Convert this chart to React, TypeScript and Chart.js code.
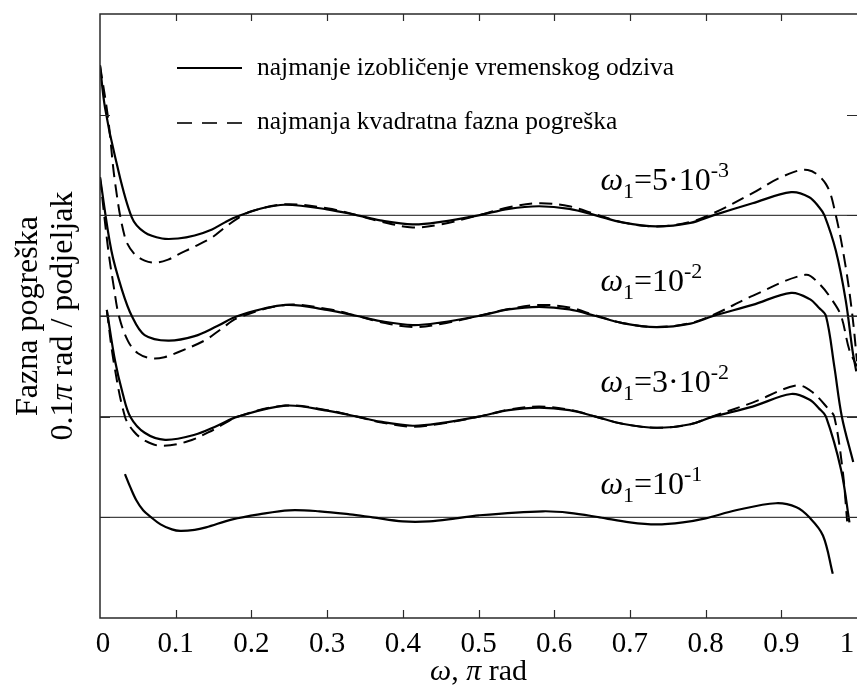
import React, { useEffect, useRef } from 'react';
import { Chart, registerables } from 'chart.js';

Chart.register(...registerables);

// ---------- axis data ----------
const X_TICKS = [0, 0.1, 0.2, 0.3, 0.4, 0.5, 0.6, 0.7, 0.8, 0.9, 1];
const X_TICK_LABELS = ['0', '0.1', '0.2', '0.3', '0.4', '0.5', '0.6', '0.7', '0.8', '0.9', '1'];
const Y_TICKS = [1, 2, 3, 4, 5];
const BASELINES = [4, 3, 2, 1];

const LEGEND_SOLID = 'najmanje izobličenje vremenskog odziva';
const LEGEND_DASHED = 'najmanja kvadratna fazna pogreška';
const OMEGA_MAIN = ['=5·10', '=10', '=3·10', '=10'];
const OMEGA_EXP = ['-3', '-2', '-2', '-1'];
const OMEGA_BASE = [4, 3, 2, 1];

// ---------- curve data (offsets relative to each baseline) ----------
// omega1 = 5e-3  (baseline 4)
const A_SOLID_X = [0, 0.0066, 0.02, 0.042, 0.059, 0.082, 0.103, 0.125, 0.148, 0.165, 0.182, 0.214, 0.245, 0.30, 0.34, 0.37, 0.413, 0.45, 0.50, 0.54, 0.58, 0.62, 0.655, 0.69, 0.735, 0.78, 0.81, 0.862, 0.913, 0.937, 0.95, 0.957, 0.972, 0.985, 0.994, 0.999];
const A_SOLID_Y = [1.49, 1.07, 0.58, -0.02, -0.17, -0.23, -0.23, -0.2, -0.14, -0.07, -0.01, 0.07, 0.105, 0.06, 0, -0.05, -0.09, -0.065, 0, 0.065, 0.09, 0.065, 0, -0.07, -0.11, -0.075, 0, 0.12, 0.23, 0.18, 0.08, 0, -0.35, -0.84, -1.34, -1.55];
const A_DASH_X = [0, 0.0106, 0.02, 0.033, 0.045, 0.059, 0.073, 0.09, 0.103, 0.125, 0.148, 0.165, 0.182, 0.20, 0.245, 0.30, 0.34, 0.37, 0.413, 0.45, 0.50, 0.54, 0.58, 0.62, 0.655, 0.69, 0.735, 0.78, 0.81, 0.862, 0.90, 0.935, 0.959, 0.972, 0.985, 0.994, 1.0];
const A_DASH_Y = [1.49, 0.97, 0.32, -0.22, -0.38, -0.45, -0.47, -0.44, -0.39, -0.31, -0.22, -0.12, -0.03, 0.04, 0.11, 0.07, 0, -0.06, -0.12, -0.09, 0, 0.08, 0.12, 0.09, 0.01, -0.07, -0.11, -0.065, 0.02, 0.22, 0.38, 0.45, 0.31, 0, -0.51, -1.0, -1.45];

// omega1 = 1e-2  (baseline 3)
const B_SOLID_X = [0, 0.015, 0.029, 0.042, 0.059, 0.09, 0.125, 0.155, 0.182, 0.245, 0.30, 0.34, 0.37, 0.413, 0.45, 0.50, 0.54, 0.58, 0.62, 0.655, 0.69, 0.735, 0.78, 0.81, 0.862, 0.913, 0.937, 0.95, 0.959, 0.97, 0.98, 0.995];
const B_SOLID_Y = [1.38, 0.65, 0.26, 0, -0.19, -0.245, -0.2, -0.1, 0, 0.11, 0.06, 0, -0.05, -0.09, -0.065, 0, 0.065, 0.09, 0.065, 0, -0.07, -0.11, -0.075, 0, 0.11, 0.23, 0.17, 0.08, 0, -0.5, -1.0, -1.45];
const B_DASH_X = [0, 0.011, 0.018, 0.025, 0.037, 0.05, 0.068, 0.085, 0.103, 0.139, 0.16, 0.182, 0.245, 0.30, 0.34, 0.37, 0.413, 0.45, 0.50, 0.54, 0.58, 0.62, 0.655, 0.69, 0.735, 0.78, 0.81, 0.862, 0.932, 0.95, 0.967, 0.979, 0.99, 1.0];
const B_DASH_Y = [1.38, 0.65, 0.3, 0, -0.25, -0.37, -0.42, -0.41, -0.36, -0.24, -0.13, -0.02, 0.11, 0.07, 0, -0.06, -0.11, -0.08, 0, 0.07, 0.11, 0.085, 0.005, -0.07, -0.11, -0.07, 0.01, 0.2, 0.41, 0.32, 0.16, 0, -0.34, -0.5];

// omega1 = 3e-2  (baseline 2)
const C_SOLID_X = [0.009, 0.02, 0.03, 0.04, 0.059, 0.086, 0.125, 0.155, 0.182, 0.245, 0.30, 0.34, 0.37, 0.413, 0.45, 0.50, 0.54, 0.58, 0.62, 0.655, 0.69, 0.735, 0.78, 0.81, 0.862, 0.913, 0.937, 0.95, 0.959, 0.979, 0.99];
const C_SOLID_Y = [1.06, 0.55, 0.23, 0, -0.16, -0.23, -0.18, -0.09, 0, 0.11, 0.06, 0, -0.05, -0.09, -0.065, 0, 0.065, 0.09, 0.065, 0, -0.07, -0.11, -0.075, 0, 0.1, 0.225, 0.17, 0.08, 0, -0.53, -1.05];
const C_DASH_X = [0.009, 0.018, 0.033, 0.045, 0.06, 0.081, 0.116, 0.15, 0.182, 0.245, 0.30, 0.34, 0.37, 0.413, 0.45, 0.50, 0.54, 0.58, 0.62, 0.655, 0.69, 0.735, 0.78, 0.81, 0.862, 0.92, 0.94, 0.963, 0.97, 0.981, 0.987];
const C_DASH_Y = [1.06, 0.55, 0, -0.15, -0.24, -0.29, -0.245, -0.13, 0, 0.11, 0.065, 0, -0.055, -0.1, -0.07, 0, 0.07, 0.1, 0.07, 0, -0.07, -0.11, -0.075, 0.005, 0.14, 0.31, 0.25, 0.07, 0, -0.53, -1.04];

// omega1 = 1e-1  (baseline 1)
const D_SOLID_X = [0.033, 0.04, 0.048, 0.057, 0.066, 0.08, 0.095, 0.106, 0.125, 0.14, 0.175, 0.21, 0.25, 0.29, 0.33, 0.36, 0.40, 0.435, 0.47, 0.50, 0.585, 0.62, 0.66, 0.70, 0.735, 0.77, 0.80, 0.84, 0.893, 0.92, 0.937, 0.955, 0.968];
const D_SOLID_Y = [0.43, 0.3, 0.17, 0.07, 0.01, -0.07, -0.12, -0.135, -0.125, -0.1, -0.02, 0.03, 0.07, 0.06, 0.03, 0, -0.04, -0.04, -0.01, 0.02, 0.06, 0.045, 0, -0.05, -0.07, -0.05, -0.01, 0.07, 0.14, 0.1, 0, -0.18, -0.56];

const SERIF = '"Liberation Serif", "Times New Roman", serif';

const toPoints = (xs: number[], offs: number[], base: number) =>
  xs.map((x, i) => ({ x, y: base + offs[i] }));

type Run = { t: string; size: number; italic?: boolean; dy?: number };

function runsWidth(ctx: CanvasRenderingContext2D, runs: Run[]) {
  let w = 0;
  for (const r of runs) {
    ctx.font = `${r.italic ? 'italic ' : ''}${r.size}px ${SERIF}`;
    w += ctx.measureText(r.t).width;
  }
  return w;
}

function drawRuns(ctx: CanvasRenderingContext2D, runs: Run[], x: number, y: number) {
  let cx = x;
  for (const r of runs) {
    ctx.font = `${r.italic ? 'italic ' : ''}${r.size}px ${SERIF}`;
    ctx.fillText(r.t, cx, y + (r.dy || 0));
    cx += ctx.measureText(r.t).width;
  }
}

const framePlugin = {
  id: 'frame',
  afterDatasetsDraw(chart: any) {
    const ctx: CanvasRenderingContext2D = chart.ctx;
    const { left, right, top, bottom } = chart.chartArea;
    const xs = chart.scales.x;
    const ys = chart.scales.y;
    ctx.save();
    // box
    ctx.strokeStyle = '#2a2a2a';
    ctx.lineWidth = 1.5;
    ctx.beginPath();
    ctx.moveTo(right + 1, top);
    ctx.lineTo(left, top);
    ctx.lineTo(left, bottom);
    ctx.lineTo(right + 1, bottom);
    ctx.stroke();
    // ticks
    ctx.lineWidth = 1.2;
    ctx.beginPath();
    X_TICKS.forEach((v) => {
      if (v <= 0 || v >= 1) return;
      const px = Math.round(xs.getPixelForValue(v)) + 0.5;
      ctx.moveTo(px, top);
      ctx.lineTo(px, top + 7);
      ctx.moveTo(px, bottom);
      ctx.lineTo(px, bottom - 8);
    });
    Y_TICKS.forEach((v) => {
      const py = Math.round(ys.getPixelForValue(v)) + 0.5;
      ctx.moveTo(left, py);
      ctx.lineTo(left + 10, py);
      ctx.moveTo(right, py);
      ctx.lineTo(right - 10, py);
    });
    ctx.stroke();

    // tick labels
    ctx.fillStyle = '#000';
    ctx.textBaseline = 'alphabetic';
    ctx.textAlign = 'center';
    ctx.font = `29px ${SERIF}`;
    X_TICKS.forEach((v, i) => {
      let px = xs.getPixelForValue(v);
      if (v === 0) px += 3;
      if (v === 1) px -= 10;
      ctx.fillText(X_TICK_LABELS[i], px, bottom + 34);
    });

    ctx.textAlign = 'left';
    // x title
    const xt: Run[] = [
      { t: 'ω', size: 30, italic: true },
      { t: ', ', size: 30 },
      { t: 'π', size: 30, italic: true },
      { t: ' rad', size: 30 },
    ];
    const xw = runsWidth(ctx, xt);
    drawRuns(ctx, xt, (left + right) / 2 - xw / 2, bottom + 62);

    // y title
    const yt1: Run[] = [{ t: 'Fazna pogreška', size: 32 }];
    const yt2: Run[] = [
      { t: '0.1', size: 32 },
      { t: 'π', size: 32, italic: true },
      { t: ' rad / podjeljak', size: 32 },
    ];
    const cy = (top + bottom) / 2;
    [[yt1, 37], [yt2, 72]].forEach(([runs, bx]: any) => {
      ctx.save();
      ctx.translate(bx, cy);
      ctx.rotate(-Math.PI / 2);
      const w = runsWidth(ctx, runs);
      drawRuns(ctx, runs, -w / 2, 0);
      ctx.restore();
    });

    // legend
    ctx.strokeStyle = '#000';
    ctx.lineWidth = 2;
    ctx.beginPath();
    ctx.moveTo(left + 77, top + 54);
    ctx.lineTo(left + 142, top + 54);
    ctx.stroke();
    ctx.strokeStyle = '#333';
    ctx.setLineDash([15, 10]);
    ctx.beginPath();
    ctx.moveTo(left + 77, top + 109);
    ctx.lineTo(left + 142, top + 109);
    ctx.stroke();
    ctx.setLineDash([]);
    ctx.font = `25.5px ${SERIF}`;
    ctx.fillText(LEGEND_SOLID, left + 157, top + 61);
    ctx.fillText(LEGEND_DASHED, left + 157, top + 115);

    // omega labels
    OMEGA_MAIN.forEach((m, i) => {
      const px = xs.getPixelForValue(0.661);
      const py = ys.getPixelForValue(OMEGA_BASE[i] + (i === 3 ? 0.23 : 0.25));
      const runs: Run[] = [
        { t: 'ω', size: 32, italic: true },
        { t: '1', size: 22, dy: 8 },
        { t: m, size: 32 },
        { t: OMEGA_EXP[i], size: 22, dy: -13 },
      ];
      drawRuns(ctx, runs, px, py);
    });
    ctx.restore();
  },
};

export default function App() {
  const ref = useRef<HTMLCanvasElement | null>(null);
  useEffect(() => {
    if (!ref.current) return;
    const solid = { borderColor: '#000', borderWidth: 2.2, pointRadius: 0, fill: false, tension: 0.35 };
    const dashed = { ...solid, borderWidth: 2, borderDash: [13, 7] };
    const datasets: any[] = [
      { ...solid, data: toPoints(A_SOLID_X, A_SOLID_Y, 4) },
      { ...dashed, data: toPoints(A_DASH_X, A_DASH_Y, 4) },
      { ...solid, data: toPoints(B_SOLID_X, B_SOLID_Y, 3) },
      { ...dashed, data: toPoints(B_DASH_X, B_DASH_Y, 3) },
      { ...solid, data: toPoints(C_SOLID_X, C_SOLID_Y, 2) },
      { ...dashed, data: toPoints(C_DASH_X, C_DASH_Y, 2) },
      { ...solid, data: toPoints(D_SOLID_X, D_SOLID_Y, 1) },
      ...BASELINES.map((b) => ({
        borderColor: '#444',
        borderWidth: 1.3,
        pointRadius: 0,
        tension: 0,
        data: [{ x: 0, y: b }, { x: 1, y: b }],
      })),
    ];
    const chart = new Chart(ref.current, {
      type: 'line',
      data: { datasets },
      options: {
        responsive: false,
        animation: false,
        devicePixelRatio: 1,
        layout: { padding: { left: 100, top: 14, right: 0, bottom: 74 } },
        plugins: { legend: { display: false }, tooltip: { enabled: false } },
        events: [],
        scales: {
          x: { type: 'linear', min: 0, max: 1, display: false },
          y: { type: 'linear', min: 0, max: 6, display: false },
        },
      },
      plugins: [framePlugin],
    });
    return () => chart.destroy();
  }, []);
  return (
    <div style={{ position: 'fixed', left: 0, top: 0, width: 857, height: 692, background: '#fff' }}>
      <canvas ref={ref} width={857} height={692} />
    </div>
  );
}
